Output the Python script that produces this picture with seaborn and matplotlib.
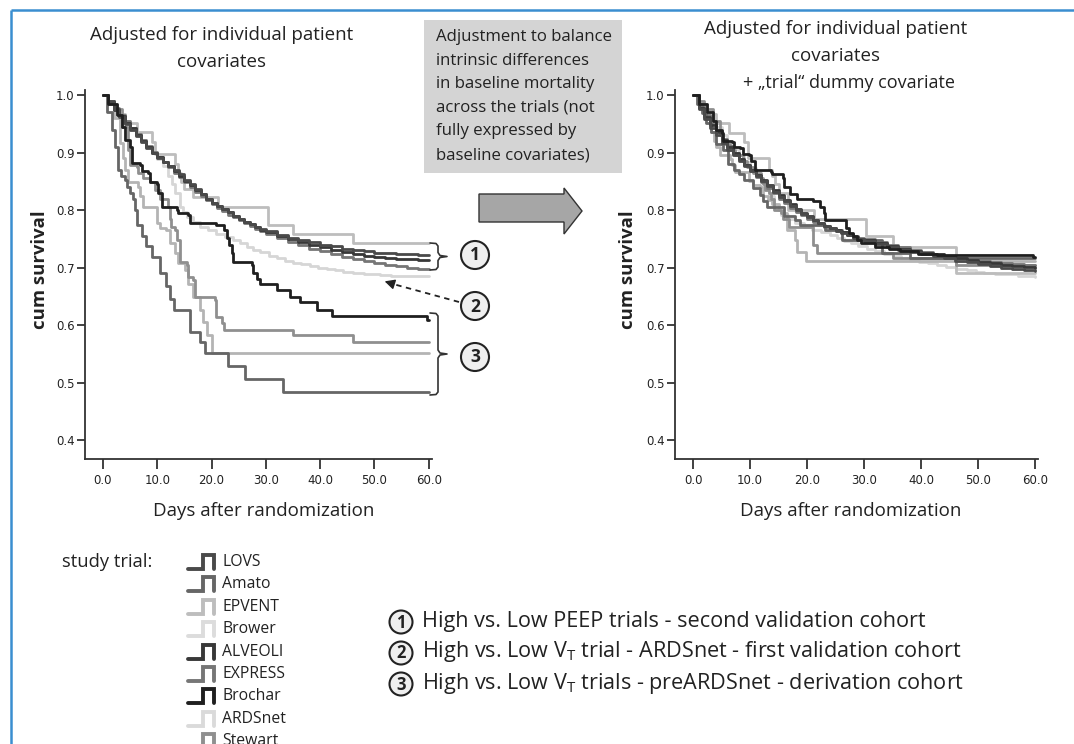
import matplotlib
matplotlib.use("Agg")
import matplotlib.pyplot as plt
import numpy as np
import pandas as pd
import seaborn as sns
from matplotlib.patches import Rectangle, Polygon, Circle

# ---------------- data (day, cumulative survival) ----------------
TRIALS = ["LOVS", "Amato", "EPVENT", "Brower", "ALVEOLI", "EXPRESS", "Brochar", "ARDSnet", "Stewart"]
COLORS = ["#4a4a4a", "#666666", "#bdbdbd", "#b4b4b4", "#383838", "#767676", "#1f1f1f", "#d6d6d6", "#8f8f8f"]
ICON_COLORS = ["#4a4a4a", "#666666", "#bdbdbd", "#dcdcdc", "#383838", "#767676", "#1f1f1f", "#dadada", "#8f8f8f"]

X_TICKS = [0, 10, 20, 30, 40, 50, 60]
X_TICK_LABELS = ["0.0", "10.0", "20.0", "30.0", "40.0", "50.0", "60.0"]
Y_TICKS = [0.4, 0.5, 0.6, 0.7, 0.8, 0.9, 1.0]
Y_TICK_LABELS = ["0.4", "0.5", "0.6", "0.7", "0.8", "0.9", "1.0"]

# Left panel: adjusted for individual patient covariates
LOVS_L = [(0, 1.0), (1, .99), (2, .975), (3, .962), (4, .95), (5, .94), (6, .928), (7, .918), (8, .908),
          (9, .899), (10, .891), (11, .884), (12, .877), (13, .87), (14, .862), (15, .853), (16, .845),
          (17, .836), (18, .828), (19, .82), (20, .813), (21, .807), (22, .801), (23, .796), (24, .79),
          (25, .785), (26, .78), (27, .776), (28, .771), (29, .767), (30, .763), (32, .757), (34, .752),
          (36, .748), (38, .744), (40, .74), (42, .737), (44, .733), (46, .73), (48, .728), (50, .726),
          (52, .725), (54, .724), (56, .723), (58, .722), (60, .722)]
ALVEOLI_L = [(0, 1.0), (1, .988), (2, .974), (3, .963), (4, .952), (5, .942), (6, .931), (7, .92), (8, .91),
             (9, .90), (10, .892), (11, .884), (12, .876), (13, .868), (14, .86), (15, .851), (16, .843),
             (17, .835), (18, .827), (19, .82), (20, .813), (21, .807), (22, .801), (23, .796), (24, .79),
             (25, .785), (26, .78), (27, .775), (28, .77), (29, .766), (30, .762), (32, .755), (34, .749),
             (36, .744), (38, .739), (40, .735), (42, .731), (44, .727), (46, .723), (48, .72), (50, .718),
             (52, .716), (54, .715), (56, .714), (58, .713), (60, .713)]
EXPRESS_L = [(0, 1.0), (1, .99), (2, .977), (3, .965), (4, .954), (5, .943), (6, .932), (7, .921), (8, .911),
             (9, .901), (10, .892), (11, .883), (12, .874), (13, .865), (14, .857), (15, .848), (16, .84),
             (17, .832), (18, .825), (19, .818), (20, .811), (21, .804), (22, .798), (23, .792), (24, .787),
             (25, .782), (26, .777), (27, .772), (28, .767), (29, .763), (30, .759), (32, .752), (34, .745),
             (36, .739), (38, .733), (40, .728), (42, .723), (44, .719), (46, .715), (48, .711), (50, .708),
             (52, .705), (54, .702), (56, .70), (58, .698), (60, .697)]
ARDSNET_L = [(0, 1.0), (1, .988), (2, .976), (3, .965), (4, .954), (5, .943), (6, .932), (7, .921), (8, .91),
             (9, .899), (10, .888), (11, .876), (12, .86), (12.7, .845), (13.3, .829), (14.2, .806),
             (14.8, .797), (15.4, .788), (16.6, .779), (17.9, .771), (19.4, .765), (20.9, .759), (22.5, .753),
             (24, .748), (25.3, .742), (26.5, .736), (27.7, .731), (28.9, .727), (30.5, .72), (32, .716),
             (33.5, .712), (35, .708), (36.5, .706), (38.1, .703), (39.6, .70), (41.2, .697), (42.7, .695),
             (44.3, .692), (46.1, .69), (48, .689), (49.6, .688), (51, .687), (53, .686), (55, .686),
             (57, .685), (60, .685)]
EPVENT_L = [(0, 1.0), (1, .984), (2.5, .967), (4, .951), (6.3, .936), (9.0, .918), (9.6, .897), (13.3, .88),
            (13.8, .864), (14.3, .848), (15, .836), (16.6, .823), (21.1, .806), (30.4, .774), (35.0, .759),
            (46.1, .742), (60, .742)]
BROCHAR_L = [(0, 1.0), (1, .985), (2.5, .965), (3.5, .945), (4.1, .922), (5.0, .91), (5.3, .881), (6.8, .878),
             (7.1, .867), (8.3, .864), (8.7, .849), (9.9, .846), (10.2, .829), (10.8, .806), (13.6, .80),
             (13.9, .794), (15.7, .791), (16.0, .777), (20.9, .774), (22.2, .765), (22.8, .752), (23.3, .739),
             (23.7, .725), (24.0, .71), (27.4, .704), (27.7, .69), (28.3, .68), (28.9, .672), (32.0, .661),
             (34.4, .649), (36.3, .64), (39.4, .626), (42.1, .616), (59.7, .608), (60, .608)]
AMATO_L = [(0, 1.0), (0.7, .97), (1.6, .939), (2.3, .91), (2.8, .87), (3.3, .86), (4.1, .852), (4.5, .84),
           (5.0, .829), (5.6, .82), (5.9, .80), (6.2, .774), (7.1, .754), (8.0, .737), (9.0, .719),
           (10.5, .69), (11.7, .667), (12.3, .645), (13.0, .626), (16.0, .588), (17.9, .571), (18.8, .551),
           (23.1, .529), (26.2, .506), (33.1, .484), (60, .484)]
BROWER_L = [(0, 1.0), (1, .985), (2, .96), (3.1, .916), (3.6, .89), (4.1, .87), (4.7, .849), (6.5, .84),
            (6.8, .825), (7.4, .806), (9.3, .806), (9.9, .777), (10.5, .768), (11.7, .765), (12.3, .742),
            (13.2, .725), (13.9, .707), (15.1, .696), (15.7, .672), (16.6, .649), (17.9, .626), (18.5, .606),
            (19.2, .583), (20.1, .551), (60, .551)]
STEWART_L = [(0, 1.0), (1, .99), (2, .975), (3.5, .945), (4.7, .904), (5.0, .878), (6.2, .875), (6.5, .864),
             (7.4, .855), (8.7, .849), (9.5, .835), (10.5, .82), (12.0, .806), (12.3, .785), (12.6, .771),
             (13.3, .765), (13.6, .748), (14.2, .71), (15.4, .704), (15.7, .684), (16.6, .678), (16.9, .649),
             (20.6, .643), (20.9, .614), (21.9, .603), (22.2, .591), (35.0, .583), (46.1, .571), (60, .571)]

# Right panel: + "trial" dummy covariate
LOVS_R = [(0, 1.0), (1, .975), (2, .958), (3, .943), (4, .93), (5, .917), (6, .905), (7, .895), (8, .886),
          (9, .877), (10, .868), (11, .859), (12, .85), (13, .841), (14, .832), (15, .823), (16, .815),
          (17, .807), (18, .80), (19, .793), (20, .787), (21, .782), (22, .777), (23, .772), (24, .768),
          (25, .764), (26, .76), (27, .756), (28, .752), (29, .749), (30, .746), (32, .741), (34, .736),
          (36, .731), (38, .727), (40, .723), (42, .72), (44, .716), (46, .712), (48, .709), (50, .706),
          (52, .703), (54, .70), (56, .697), (58, .695), (60, .694)]
ALVEOLI_R = [(0, 1.0), (1, .978), (2, .962), (3, .948), (4, .935), (5, .922), (6, .91), (7, .899), (8, .889),
             (9, .879), (10, .87), (11, .861), (12, .852), (13, .843), (14, .834), (15, .826), (16, .818),
             (17, .81), (18, .802), (19, .795), (20, .789), (21, .783), (22, .778), (23, .773), (24, .769),
             (25, .765), (26, .761), (27, .757), (28, .753), (29, .75), (30, .747), (32, .742), (34, .737),
             (36, .733), (38, .729), (40, .726), (42, .723), (44, .72), (46, .716), (48, .713), (50, .71),
             (52, .707), (54, .705), (56, .703), (58, .701), (60, .70)]
EXPRESS_R = [(0, 1.0), (1, .98), (2, .965), (3, .95), (4, .937), (5, .924), (6, .912), (7, .90), (8, .889),
             (9, .878), (10, .868), (11, .858), (12, .848), (13, .838), (14, .829), (15, .82), (16, .812),
             (17, .804), (18, .797), (19, .791), (20, .785), (21, .78), (22, .775), (23, .771), (24, .767),
             (25, .764), (26, .761), (27, .758), (28, .755), (29, .752), (30, .749), (32, .744), (34, .739),
             (36, .735), (38, .731), (40, .727), (42, .724), (44, .72), (46, .717), (48, .714), (50, .712),
             (52, .71), (54, .708), (56, .706), (58, .705), (60, .705)]
ARDSNET_R = [(0, 1.0), (1, .985), (2, .97), (3, .957), (4, .944), (5, .931), (6, .918), (7, .906), (8, .895),
             (9, .884), (10, .873), (11, .862), (12, .85), (12.7, .838), (13.3, .825), (14.2, .808),
             (14.8, .80), (15.4, .792), (16.6, .784), (17.9, .777), (19.4, .771), (20.9, .766), (22.5, .761),
             (24, .756), (25.3, .751), (26.5, .746), (27.7, .742), (28.9, .738), (30.5, .732), (32, .728),
             (33.5, .724), (35, .72), (36.5, .717), (38.1, .713), (39.6, .71), (41.2, .707), (42.7, .704),
             (44.3, .701), (46.1, .698), (48, .695), (49.6, .693), (51, .691), (53, .689), (55, .688),
             (57, .686), (60, .684)]
EPVENT_R = [(0, 1.0), (1, .984), (2.5, .967), (4, .951), (6.3, .934), (9.0, .918), (9.6, .89), (13.3, .87),
            (13.8, .86), (14.3, .845), (15, .83), (16.6, .80), (21.2, .785), (30.4, .755), (35.0, .735),
            (46.1, .69), (60, .69)]
BROCHAR_R = [(0, 1.0), (1, .985), (2.5, .97), (3.5, .955), (4.1, .94), (5.0, .934), (5.3, .92), (6.8, .918),
             (7.1, .91), (8.3, .908), (8.7, .898), (9.9, .896), (10.2, .885), (10.8, .87), (13.6, .866),
             (13.9, .862), (15.7, .855), (16.0, .84), (17.0, .828), (18.2, .82), (21.1, .815), (22.2, .805),
             (22.9, .795), (23.2, .783), (26.9, .768), (27.4, .76), (28.0, .754), (28.7, .748), (29.5, .742),
             (32, .736), (34.4, .732), (36.3, .728), (39.4, .724), (42.7, .722), (59.7, .718), (60, .718)]
AMATO_R = [(0, 1.0), (0.7, .985), (1.6, .968), (2.3, .952), (3.1, .936), (4.1, .915), (5.3, .905),
           (6.2, .88), (7.1, .87), (8.0, .862), (9.0, .852), (10.5, .838), (11.7, .826), (12.3, .816),
           (13.0, .806), (16.0, .79), (17.9, .782), (18.8, .774), (23.1, .765), (26.2, .748), (33.1, .725),
           (38.0, .717), (60, .717)]
BROWER_R = [(0, 1.0), (1, .985), (2, .965), (3.1, .935), (3.6, .92), (4.1, .91), (4.7, .895), (6.5, .888),
            (6.8, .878), (7.4, .866), (9.3, .866), (9.9, .85), (10.5, .843), (11.7, .84), (12.3, .825),
            (13.2, .818), (13.9, .81), (15.1, .80), (15.7, .794), (16.4, .765), (17.9, .748), (18.2, .727),
            (19.9, .712), (60, .712)]
STEWART_R = [(0, 1.0), (1, .99), (2, .975), (3.5, .955), (4.7, .93), (5.0, .915), (6.5, .905), (7.4, .895),
             (8.7, .885), (9.5, .875), (10.5, .865), (12.0, .855), (12.3, .845), (12.6, .835), (13.3, .83),
             (13.6, .82), (14.2, .80), (15.4, .795), (15.7, .785), (16.9, .771), (21.1, .739), (21.7, .725),
             (35.0, .717), (46.1, .705), (60, .705)]

LEFT_CURVES = [LOVS_L, AMATO_L, EPVENT_L, BROWER_L, ALVEOLI_L, EXPRESS_L, BROCHAR_L, ARDSNET_L, STEWART_L]
RIGHT_CURVES = [LOVS_R, AMATO_R, EPVENT_R, BROWER_R, ALVEOLI_R, EXPRESS_R, BROCHAR_R, ARDSNET_R, STEWART_R]
DRAW_ORDER = ["ARDSnet", "Brower", "EPVENT", "Stewart", "EXPRESS", "Amato", "ALVEOLI", "LOVS", "Brochar"]


def to_frame(curves):
    rows = []
    for name, pts in zip(TRIALS, curves):
        for d, s in pts:
            rows.append({"trial": name, "day": d, "surv": s})
    return pd.DataFrame(rows)


# ---------------- styling ----------------
sns.set_theme(style="ticks")
plt.rcParams["font.family"] = ["Open Sans", "DejaVu Sans"]
TICK_FONT = ["Liberation Sans Narrow", "DejaVu Sans"]
INK = "#222222"

W, H = 1074, 744
fig = plt.figure(figsize=(W / 100, H / 100), dpi=100)
fig.patch.set_facecolor("white")


def rect(x0, y0, x1, y1):
    return [x0 / W, 1 - y1 / H, (x1 - x0) / W, (y1 - y0) / H]


palette = dict(zip(TRIALS, COLORS))

axL = fig.add_axes(rect(85, 90, 432, 459))
axR = fig.add_axes(rect(675, 90, 1038, 459))

for ax, curves, xlim in [(axL, LEFT_CURVES, (-3.31, 60.6)), (axR, RIGHT_CURVES, (-3.16, 60.5))]:
    df = to_frame(curves)
    sns.lineplot(data=df, x="day", y="surv", hue="trial", hue_order=DRAW_ORDER, palette=palette,
                 estimator=None, sort=False, drawstyle="steps-post", linewidth=2.0,
                 legend=False, ax=ax)
    ax.set_xlim(*xlim)
    ax.set_ylim(0.367, 1.0087)
    ax.set_xticks(X_TICKS)
    ax.set_xticklabels(X_TICK_LABELS)
    ax.set_yticks(Y_TICKS)
    ax.set_yticklabels(Y_TICK_LABELS)
    ax.set_xlabel("")
    ax.set_ylabel("")
    for side in ["top", "right"]:
        ax.spines[side].set_visible(False)
    for side in ["left", "bottom"]:
        ax.spines[side].set_color("#333333")
        ax.spines[side].set_linewidth(1.3)
    ax.tick_params(axis="x", direction="out", length=7.5, width=1.3, color="#333333", pad=3,
                   labelsize=8.5, labelcolor=INK)
    ax.tick_params(axis="y", direction="out", length=5.5, width=1.3, color="#333333", pad=2,
                   labelsize=8.5, labelcolor=INK)
    for lab in ax.get_xticklabels() + ax.get_yticklabels():
        lab.set_fontfamily(TICK_FONT)
    ax.set_facecolor("none")

# ---------------- overlay in pixel coordinates ----------------
ov = fig.add_axes([0, 0, 1, 1])
ov.set_xlim(0, W)
ov.set_ylim(H, 0)
ov.axis("off")
ov.patch.set_alpha(0)

# blue frame
ov.plot([11, W], [10, 10], color="#3a8ed0", lw=1.8, solid_capstyle="butt")
ov.plot([11, 11], [10, H], color="#3a8ed0", lw=1.8, solid_capstyle="butt")


def t(x, y, s, size=11, ha="left", va="center", **kw):
    ov.text(x, y, s, fontsize=size, ha=ha, va=va, color=INK, **kw)


# titles
t(222, 35, "Adjusted for individual patient", ha="center", size=13.5)
t(222, 62, "covariates", ha="center", size=13.5)
t(836, 29, "Adjusted for individual patient", ha="center", size=13.5)
t(836, 56, "covariates", ha="center", size=13.5)
t(849, 83, "+ \u201etrial\u201c dummy covariate", ha="center", size=13)

# axis labels
t(264, 511, "Days after randomization", ha="center", size=13.5)
t(851, 511, "Days after randomization", ha="center", size=13.5)
t(40, 270, "cum survival", ha="center", size=13.3, fontweight="bold", rotation=90)
t(628, 270, "cum survival", ha="center", size=13.3, fontweight="bold", rotation=90)

# grey note box
ov.add_patch(Rectangle((424, 20), 198, 153, facecolor="#d4d4d4", edgecolor="none"))
for i, line in enumerate(["Adjustment to balance", "intrinsic differences", "in baseline mortality",
                          "across the trials (not", "fully expressed by", "baseline covariates)"]):
    t(436, 37 + i * 23.6, line, size=12.1)

# block arrow
ov.add_patch(Polygon([(479, 194), (564, 194), (564, 188), (582, 211), (564, 234), (564, 222), (479, 222)],
                     closed=True, facecolor="#a6a6a6", edgecolor="#333333", lw=1.0))

# braces


def brace(ytop, ybot):
    ym = (ytop + ybot) / 2
    xs = [430, 436, 438, 438, 440, 447, 440, 438, 438, 436, 430]
    ys = [ytop, ytop + 0.5, ytop + 3, ym - 4, ym - 1, ym, ym + 1, ym + 4, ybot - 3, ybot - 0.5, ybot]
    ov.plot(xs, ys, color="#333333", lw=1.2)


brace(243, 270)
brace(313, 395)


def circ(x, y, r, num, size):
    ov.add_patch(Circle((x, y), r, facecolor="#efefef", edgecolor="#222222", lw=1.5))
    t(x, y + 0.5, num, ha="center", size=size, fontweight="bold")


circ(475, 255, 14, "1", 12.5)
circ(475, 306, 14, "2", 12.5)
circ(475, 357, 14, "3", 12.5)

# dashed pointer from (2)
ov.plot([459, 393], [302, 284], color="#222222", lw=1.3, ls=(0, (3, 2.5)))
ov.annotate("", xy=(382, 280.5), xytext=(394, 284.3),
            arrowprops=dict(arrowstyle="-|>", mutation_scale=15, color="#222222", lw=1.0))

# legend block
t(62, 562, "study trial:", size=13.2)
for i, (name, col) in enumerate(zip(TRIALS, ICON_COLORS)):
    yc = 562 + i * 22.4
    ov.plot([188, 203, 203, 214, 214], [yc + 7, yc + 7, yc - 7, yc - 7, yc + 7], color=col, lw=2.8,
            solid_joinstyle="miter")
    t(222, yc, name, size=11.3)

# numbered explanations
for i, txt in enumerate(["High vs. Low PEEP trials - second validation cohort",
                         "High vs. Low V$_\\mathregular{T}$ trial - ARDSnet - first validation cohort",
                         "High vs. Low V$_\\mathregular{T}$ trials - preARDSnet - derivation cohort"]):
    yc = 622 + i * 31
    circ(401, yc, 11.5, str(i + 1), 12)
    t(422, yc - 1, txt, size=15.6)

fig.savefig("out.png", dpi=100, facecolor="white")
